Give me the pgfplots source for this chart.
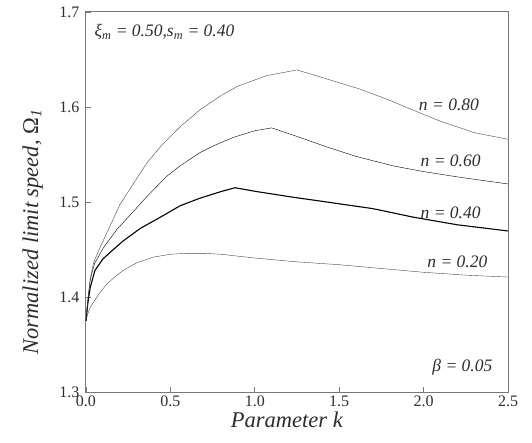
\documentclass[border=0pt]{standalone}
\usepackage{fontspec}
\setmainfont{Liberation Serif}
\usepackage{pgfplots}
\pgfplotsset{compat=1.18}
\definecolor{linecol}{RGB}{70,70,70}
\definecolor{framecol}{RGB}{120,120,120}
\definecolor{textcol}{RGB}{45,45,45}
\begin{document}
\begin{tikzpicture}
\useasboundingbox (-86pt,-50pt) rectangle (446pt,392pt);
\begin{axis}[
  at={(0,0)}, anchor=south west,
  scale only axis, width=422pt, height=380pt,
  xmin=0, xmax=2.5, ymin=1.3, ymax=1.7,
  xtick={0,0.5,1.0,1.5,2.0,2.5},
  xticklabels={0.0,0.5,1.0,1.5,2.0,2.5},
  ytick={1.3,1.4,1.5,1.6,1.7},
  yticklabels={1.3,1.4,1.5,1.6,1.7},
  tick pos=left, tick align=inside,
  major tick length=5pt,
  axis line style={framecol, line width=1pt},
  every tick/.style={framecol, line width=0.9pt},
  ticklabel style={font=\fontsize{16}{18}\selectfont, text=textcol},
  xticklabel style={yshift=0pt},
  yticklabel style={xshift=-3pt},
  xlabel={\itshape Parameter k},
  ylabel={\itshape Normalized limit speed, \textup{Ω}\textsubscript{\textit{1}}},
  xlabel style={font=\fontsize{22.5}{26}\selectfont, text=textcol, at={(axis description cs:0.476,-0.074)}, anchor=center},
  ylabel style={font=\fontsize{22.5}{26}\selectfont, text=textcol, at={(axis description cs:-0.126,0.421)}, anchor=center, rotate=0},
  cycle list={{linecol, line width=1.1pt, mark=none}},
  clip=true,
]
% n = 0.20
\addplot coordinates {(0,1.375)(0.01,1.382)(0.025,1.389)(0.05,1.396)(0.08,1.404)(0.12,1.413)(0.17,1.421)(0.22,1.428)(0.3,1.436)(0.4,1.442)(0.5,1.445)(0.6,1.446)(0.7,1.446)(0.8,1.445)(1.0,1.441)(1.25,1.437)(1.5,1.434)(1.75,1.430)(2.0,1.426)(2.25,1.423)(2.5,1.421)};
% n = 0.40
\addplot coordinates {(0,1.375)(0.01,1.392)(0.025,1.410)(0.053,1.428)(0.1,1.440)(0.162,1.450)(0.22,1.459)(0.32,1.472)(0.46,1.486)(0.557,1.496)(0.675,1.504)(0.8,1.511)(0.883,1.515)(1.01,1.511)(1.228,1.505)(1.426,1.500)(1.7,1.493)(1.94,1.484)(2.2,1.476)(2.5,1.4695)};
% n = 0.60
\addplot coordinates {(0,1.375)(0.01,1.395)(0.025,1.418)(0.05,1.435)(0.1,1.451)(0.18,1.4705)(0.26,1.486)(0.36,1.5056)(0.478,1.527)(0.557,1.538)(0.675,1.552)(0.754,1.559)(0.873,1.568)(1.0,1.575)(1.1,1.578)(1.25,1.569)(1.426,1.558)(1.6,1.548)(1.82,1.538)(2.0,1.532)(2.216,1.526)(2.5,1.519)};
% n = 0.80
\addplot coordinates {(0,1.375)(0.01,1.396)(0.025,1.419)(0.045,1.436)(0.08,1.451)(0.13,1.470)(0.2,1.497)(0.28,1.519)(0.36,1.541)(0.45,1.560)(0.55,1.578)(0.675,1.597)(0.8,1.612)(0.9,1.622)(1.07,1.633)(1.25,1.639)(1.4,1.631)(1.62,1.619)(1.8,1.607)(1.92,1.598)(2.1,1.585)(2.3,1.573)(2.5,1.566)};
\begin{scope}[every node/.style={font=\fontsize{17.5}{20}\selectfont\itshape, text=textcol}]
\node at (axis cs:2.15,1.602) {n = 0.80};
\node at (axis cs:2.16,1.543) {n = 0.60};
\node at (axis cs:2.16,1.489) {n = 0.40};
\node at (axis cs:2.20,1.437) {n = 0.20};
\node at (axis cs:2.23,1.326) {β = 0.05};
\node[anchor=west] at (axis cs:0.03,1.679) {ξ\textsubscript{m} = 0.50,s\textsubscript{m} = 0.40};
\end{scope}
\end{axis}
\end{tikzpicture}
\end{document}
